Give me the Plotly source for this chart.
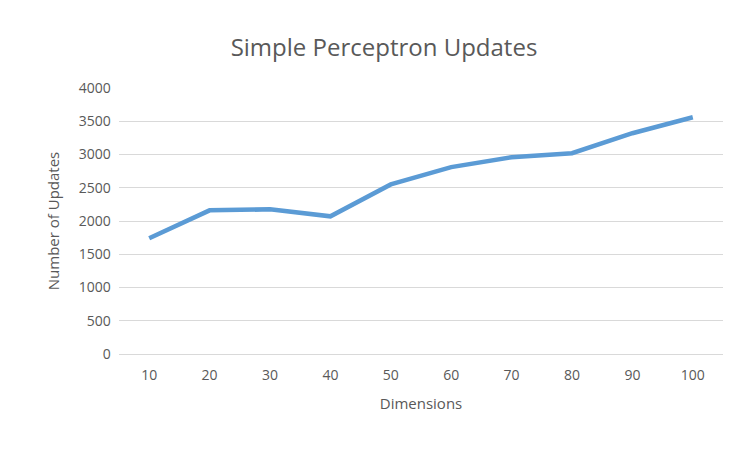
import plotly.graph_objects as go

dimensions = ["10", "20", "30", "40", "50", "60", "70", "80", "90", "100"]
updates = [1740, 2160, 2175, 2070, 2550, 2810, 2960, 3020, 3320, 3560]

fig = go.Figure()
fig.add_trace(go.Scatter(x=dimensions, y=updates, mode="lines",
                         line=dict(color="#5b9bd5", width=4.5)))

font = "Open Sans, Calibri, sans-serif"
fig.update_layout(
    width=752, height=452,
    paper_bgcolor="white", plot_bgcolor="white",
    margin=dict(l=111, r=37, t=80, b=106),
    showlegend=False,
    title=dict(text="Simple Perceptron Updates", x=0.5, xanchor="center", y=0.93,
               font=dict(family=font, size=24, color="#595959")),
    font=dict(family=font, color="#595959", size=14),
)
fig.update_xaxes(type="category", range=[-0.5, 9.5], showgrid=False, showline=True,
                 linecolor="#d9d9d9", ticks="outside", ticklen=8, tickcolor="white",
                 title=dict(text="Dimensions", font=dict(size=15)))
fig.update_yaxes(range=[0, 4000], dtick=500, gridcolor="#d9d9d9", zeroline=False,
                 showline=False, title=dict(text="Number of Updates", font=dict(size=15)),
                 ticksuffix="  ")
fig.write_html("out.html")
